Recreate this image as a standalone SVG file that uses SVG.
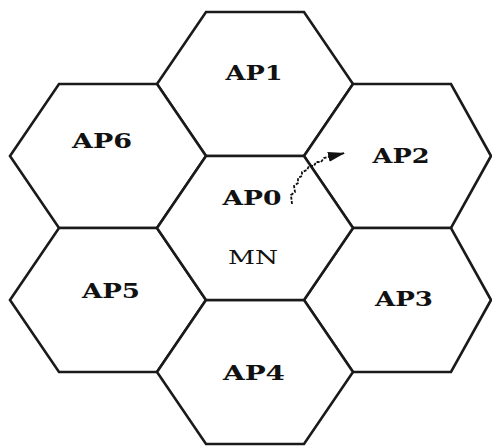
<svg xmlns="http://www.w3.org/2000/svg" width="492" height="446" viewBox="0 0 492 446">
<style>
.hex{fill:#fff;stroke:#1a1a1a;stroke-width:2.6;stroke-linejoin:miter}
.lbl{font-family:"DejaVu Serif","Liberation Serif",serif;font-weight:bold;font-size:20px;fill:#111;text-anchor:middle;font-variant-numeric:oldstyle-nums}
.mn{font-family:"DejaVu Serif","Liberation Serif",serif;font-size:19px;fill:#111;text-anchor:middle}
.move{fill:none;stroke:#111;stroke-width:1.8;stroke-dasharray:3 1.5}
</style>
<defs>
<marker id="ah" markerUnits="userSpaceOnUse" markerWidth="18" markerHeight="10" refX="17" refY="5" orient="auto">
<path d="M0,0 L17,5 L0,10 Z" fill="#111"/>
</marker>
</defs>
<rect width="492" height="446" fill="#fff"/>
<g id="AP1">
<path class="hex" d="M157,84 L206,12 L304,12 L353,84 L304,156 L206,156 Z"/>
<text class="lbl" x="254" y="80" textLength="57" lengthAdjust="spacingAndGlyphs">AP1</text>
</g>
<g id="AP6">
<path class="hex" d="M10,156 L59,84 L157,84 L206,156 L157,228 L59,228 Z"/>
<text class="lbl" x="102" y="148" textLength="60" lengthAdjust="spacingAndGlyphs">AP6</text>
</g>
<g id="AP5">
<path class="hex" d="M10,300 L59,228 L157,228 L206,300 L157,372 L59,372 Z"/>
<text class="lbl" x="111" y="298" textLength="58" lengthAdjust="spacingAndGlyphs">AP5</text>
</g>
<g id="AP2">
<path class="hex" d="M304,156 L353,84 L451,84 L491,156 L451,228 L353,228 Z"/>
<text class="lbl" x="401" y="163" textLength="57" lengthAdjust="spacingAndGlyphs">AP2</text>
</g>
<g id="AP3">
<path class="hex" d="M304,300 L353,228 L451,228 L491,300 L451,372 L353,372 Z"/>
<text class="lbl" x="404" y="306" textLength="58" lengthAdjust="spacingAndGlyphs">AP3</text>
</g>
<g id="AP4">
<path class="hex" d="M157,372 L206,300 L304,300 L353,372 L304,444 L206,444 Z"/>
<text class="lbl" x="254" y="380" textLength="62" lengthAdjust="spacingAndGlyphs">AP4</text>
</g>
<g id="AP0">
<path class="hex" d="M157,228 L206,156 L304,156 L353,228 L304,300 L206,300 Z"/>
<text class="lbl" x="252" y="205" textLength="59" lengthAdjust="spacingAndGlyphs">AP0</text>
<text class="mn" x="253" y="264" textLength="50" lengthAdjust="spacingAndGlyphs">MN</text>
</g>
<g id="connectors">
<path class="move" marker-end="url(#ah)" d="M292,204 L291,195 L295,192 L294,186 L298,183 L298,178 L302,176 L302,172 L307,170 L309,166 L314,166 L316,162 L321,162 L324,158 L345,153"/>
</g>
</svg>
